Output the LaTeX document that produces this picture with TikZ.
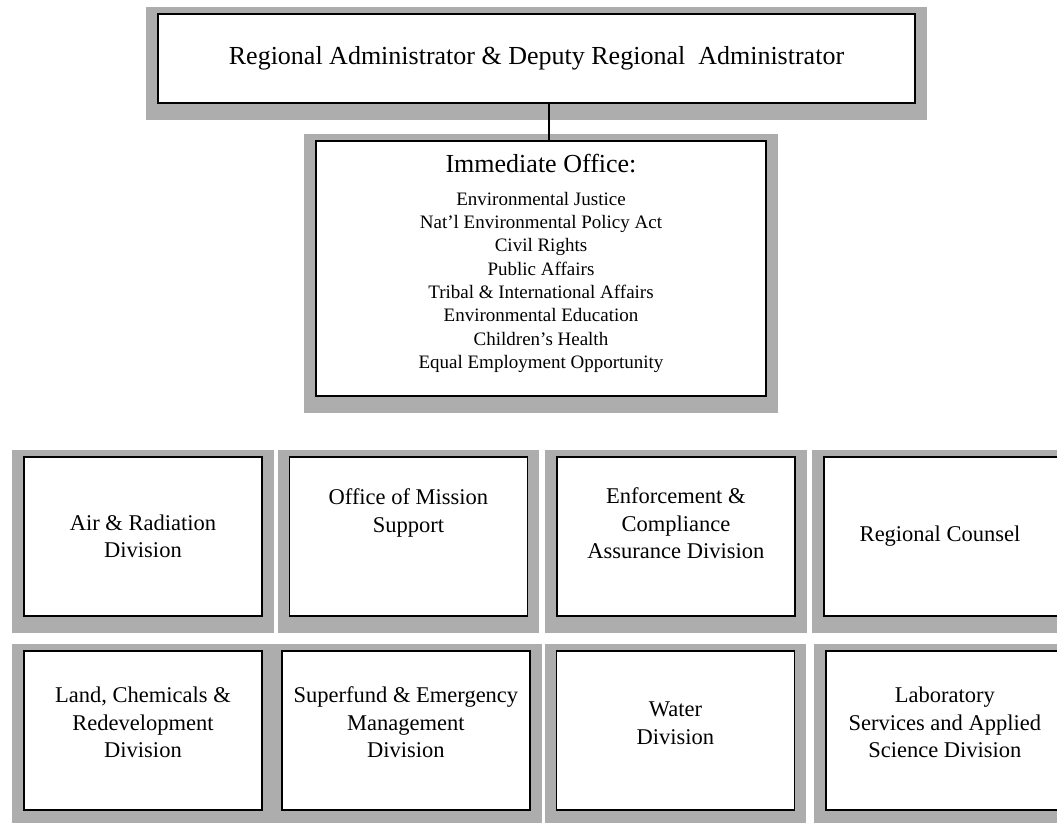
\documentclass[tikz,border=0pt]{standalone}
\usepackage{fontspec}
\setmainfont{Liberation Serif}
\usepackage{tikz}
\usetikzlibrary{positioning,backgrounds}
\definecolor{framegray}{RGB}{173,173,173}
\tikzstyle{Box} = [rectangle, draw=black, fill=white, line width=1.8pt, align=center]
\tikzstyle{Unit} = [Box, minimum width=238pt, minimum height=159pt, font=\fontsize{22.5}{27.5}\selectfont]
\tikzstyle{Frame} = [fill=framegray]
\tikzstyle{link} = [line width=1.8pt]

\begin{document}
\begin{tikzpicture}
\useasboundingbox (-536.5pt,58.5pt) rectangle (520.5pt,-763.5pt);

\node (Top)[Box, minimum width=757pt, minimum height=89pt, font=\fontsize{26}{30}\selectfont]{Regional Administrator \& Deputy Regional~ Administrator};
\node (Immediate)[Box, below of = Top, xshift=4.5pt, yshift=-181.5pt, minimum width=450pt, minimum height=255pt, text depth=14.7pt, font=\fontsize{19}{23.3}\selectfont]{{\fontsize{26}{30}\selectfont Immediate Office:}\\[10pt]
Environmental Justice\\
Nat’l Environmental Policy Act\\
Civil Rights\\
Public Affairs\\
Tribal \& International Affairs\\
Environmental Education\\
Children’s Health\\
Equal Employment Opportunity
};

% first row of divisions
\node (AirRad)[Unit, below of = Immediate, xshift=-398pt, yshift=-239.5pt]{Air \& Radiation\\
Division
};
\node (Mission)[Unit, right of = AirRad, xshift=237pt, text depth=52pt]{Office of Mission\\
Support
};
\node (Enforce)[Unit, right of = Mission, xshift=239pt, text depth=26pt]{Enforcement \&\\
Compliance\\
Assurance Division
};
\node (Counsel)[Unit, right of = Enforce, xshift=238.5pt]{Regional Counsel
};

% second row of divisions
\node (Land)[Unit, below of = AirRad, yshift=-165.5pt, text depth=16pt]{Land, Chemicals \&\\
Redevelopment\\
Division
};
\node (Superfund)[Unit, right of = Land, xshift=234.5pt, minimum width=248pt, text depth=16pt]{Superfund \& Emergency\\
Management\\
Division
};
\node (Water)[Unit, right of = Superfund, xshift=241pt, text depth=14.5pt]{Water\\
Division
};
\node (Lab)[Unit, right of = Water, xshift=241pt, text depth=16pt]{Laboratory\\
Services and Applied\\
Science Division
};

\begin{scope}[on background layer]
\foreach \n in {Top,Immediate,AirRad,Mission,Enforce,Counsel,Land,Superfund,Water,Lab}
  \fill[Frame] ([xshift=-11pt,yshift=6pt]\n.north west) rectangle ([xshift=11pt,yshift=-16pt]\n.south east);
\end{scope}

\draw[link]([xshift=12.5pt]Top.south)--([xshift=8pt]Immediate.north);

\end{tikzpicture}
\end{document}
